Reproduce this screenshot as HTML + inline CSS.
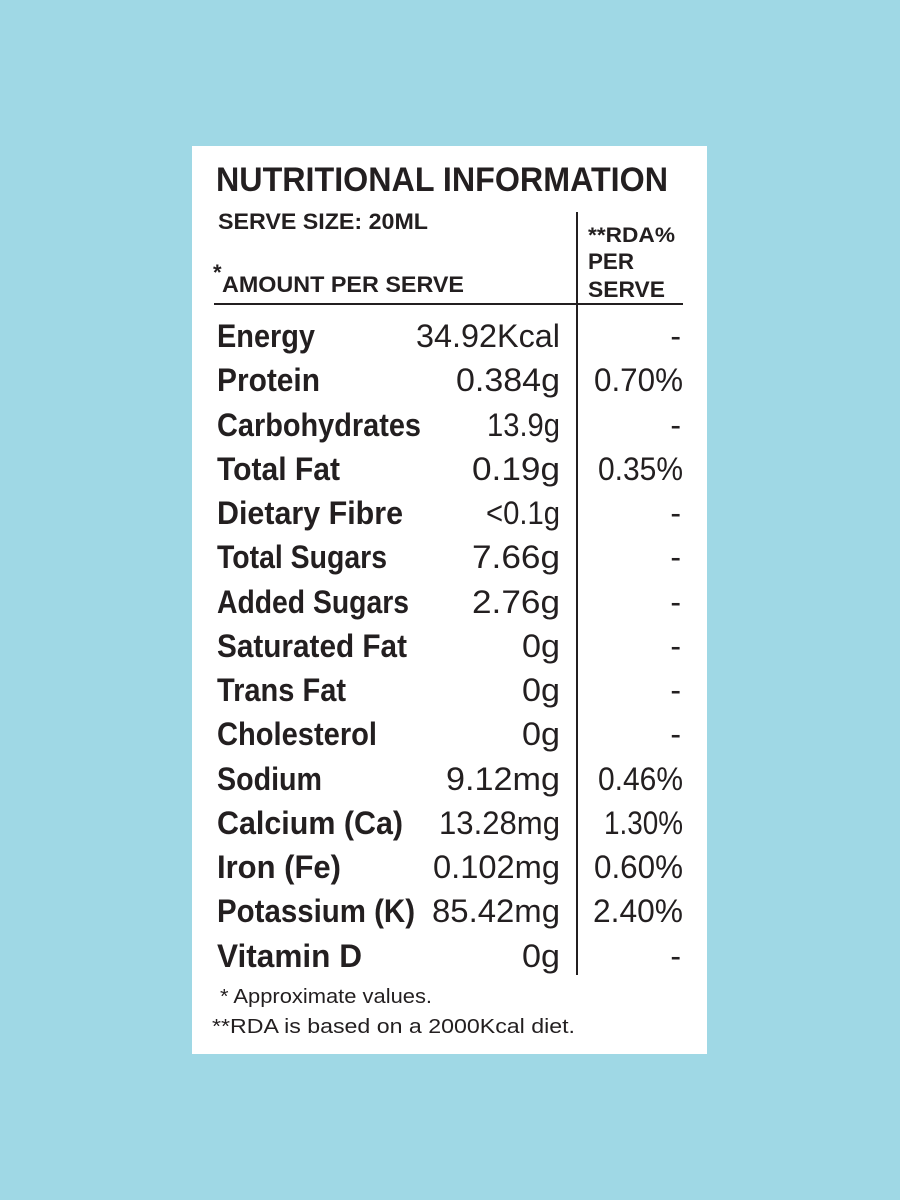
<!DOCTYPE html>
<html><head><meta charset="utf-8"><style>html,body{margin:0;padding:0;background:#9fd8e5;}svg{display:block}</style></head>
<body>
<svg width="900" height="1200" viewBox="0 0 900 1200" xmlns="http://www.w3.org/2000/svg" font-family="Liberation Sans, sans-serif" fill="#231f20">
<rect width="900" height="1200" fill="#9fd8e5"/>
<rect x="192" y="146" width="515" height="908" fill="#fff"/>
<g lengthAdjust="spacingAndGlyphs">
<text x="216" y="191" font-size="34" font-weight="bold" textLength="452" lengthAdjust="spacingAndGlyphs">NUTRITIONAL INFORMATION</text>
<text x="218" y="229" font-size="22" font-weight="bold" textLength="210" lengthAdjust="spacingAndGlyphs">SERVE SIZE: 20ML</text>
<text x="213" y="280" font-size="22" font-weight="bold">*</text>
<text x="222" y="292" font-size="22" font-weight="bold" textLength="242" lengthAdjust="spacingAndGlyphs">AMOUNT PER SERVE</text>
<text x="588" y="242" font-size="21" font-weight="bold" textLength="87" lengthAdjust="spacingAndGlyphs">**RDA%</text>
<text x="588" y="269" font-size="22" font-weight="bold" textLength="46" lengthAdjust="spacingAndGlyphs">PER</text>
<text x="588" y="297" font-size="22" font-weight="bold" textLength="77" lengthAdjust="spacingAndGlyphs">SERVE</text>
</g>
<rect x="214" y="303" width="469" height="2" fill="#231f20"/>
<rect x="576" y="212" width="2" height="763" fill="#231f20"/>
<g font-size="32">
<!-- rows -->
<g font-weight="bold">
<text x="217" y="347" textLength="98" lengthAdjust="spacingAndGlyphs">Energy</text>
<text x="217" y="391" textLength="103" lengthAdjust="spacingAndGlyphs">Protein</text>
<text x="217" y="436" textLength="204" lengthAdjust="spacingAndGlyphs">Carbohydrates</text>
<text x="217" y="480" textLength="123" lengthAdjust="spacingAndGlyphs">Total Fat</text>
<text x="217" y="524" textLength="186" lengthAdjust="spacingAndGlyphs">Dietary Fibre</text>
<text x="217" y="568" textLength="170" lengthAdjust="spacingAndGlyphs">Total Sugars</text>
<text x="217" y="613" textLength="192" lengthAdjust="spacingAndGlyphs">Added Sugars</text>
<text x="217" y="657" textLength="190" lengthAdjust="spacingAndGlyphs">Saturated Fat</text>
<text x="217" y="701" textLength="129" lengthAdjust="spacingAndGlyphs">Trans Fat</text>
<text x="217" y="745" textLength="160" lengthAdjust="spacingAndGlyphs">Cholesterol</text>
<text x="217" y="790" textLength="105" lengthAdjust="spacingAndGlyphs">Sodium</text>
<text x="217" y="834" textLength="186" lengthAdjust="spacingAndGlyphs">Calcium (Ca)</text>
<text x="217" y="878" textLength="124" lengthAdjust="spacingAndGlyphs">Iron (Fe)</text>
<text x="217" y="922" textLength="198" lengthAdjust="spacingAndGlyphs">Potassium (K)</text>
<text x="217" y="967" textLength="145" lengthAdjust="spacingAndGlyphs">Vitamin D</text>
</g>
<g>
<text x="416" y="347" textLength="144" lengthAdjust="spacingAndGlyphs">34.92Kcal</text>
<text x="456" y="391" textLength="104" lengthAdjust="spacingAndGlyphs">0.384g</text>
<text x="487" y="436" textLength="73" lengthAdjust="spacingAndGlyphs">13.9g</text>
<text x="472" y="480" textLength="88" lengthAdjust="spacingAndGlyphs">0.19g</text>
<text x="486" y="524" textLength="74" lengthAdjust="spacingAndGlyphs">&lt;0.1g</text>
<text x="472" y="568" textLength="88" lengthAdjust="spacingAndGlyphs">7.66g</text>
<text x="472" y="613" textLength="88" lengthAdjust="spacingAndGlyphs">2.76g</text>
<text x="522" y="657" textLength="38" lengthAdjust="spacingAndGlyphs">0g</text>
<text x="522" y="701" textLength="38" lengthAdjust="spacingAndGlyphs">0g</text>
<text x="522" y="745" textLength="38" lengthAdjust="spacingAndGlyphs">0g</text>
<text x="446" y="790" textLength="114" lengthAdjust="spacingAndGlyphs">9.12mg</text>
<text x="439" y="834" textLength="121" lengthAdjust="spacingAndGlyphs">13.28mg</text>
<text x="433" y="878" textLength="127" lengthAdjust="spacingAndGlyphs">0.102mg</text>
<text x="432" y="922" textLength="128" lengthAdjust="spacingAndGlyphs">85.42mg</text>
<text x="522" y="967" textLength="38" lengthAdjust="spacingAndGlyphs">0g</text>
</g>
<g text-anchor="end">
<text x="681" y="347">-</text>
<text x="683" y="391" textLength="89" lengthAdjust="spacingAndGlyphs">0.70%</text>
<text x="681" y="436">-</text>
<text x="683" y="480" textLength="85" lengthAdjust="spacingAndGlyphs">0.35%</text>
<text x="681" y="524">-</text>
<text x="681" y="568">-</text>
<text x="681" y="613">-</text>
<text x="681" y="657">-</text>
<text x="681" y="701">-</text>
<text x="681" y="745">-</text>
<text x="683" y="790" textLength="85" lengthAdjust="spacingAndGlyphs">0.46%</text>
<text x="683" y="834" textLength="79" lengthAdjust="spacingAndGlyphs">1.30%</text>
<text x="683" y="878" textLength="89" lengthAdjust="spacingAndGlyphs">0.60%</text>
<text x="683" y="922" textLength="90" lengthAdjust="spacingAndGlyphs">2.40%</text>
<text x="681" y="967">-</text>
</g>
</g>
<text x="220" y="1003" font-size="20" textLength="212" lengthAdjust="spacingAndGlyphs">* Approximate values.</text>
<text x="212" y="1033" font-size="20" textLength="363" lengthAdjust="spacingAndGlyphs">**RDA is based on a 2000Kcal diet.</text>
</svg>
</body></html>
